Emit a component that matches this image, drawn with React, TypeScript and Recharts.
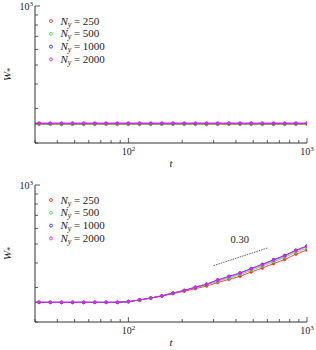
import React from "react";
import {
  Legend,
  Line,
  LineChart,
  ReferenceDot,
  ReferenceLine,
  XAxis,
  YAxis,
} from "recharts";

const FONT = '"Liberation Serif", "DejaVu Serif", serif';

// t sampled at 10^(1.5 + k/16); first point sits just left of the frame
const tValues = [
  27.4, 31.6, 36.5, 42.2, 48.7, 56.2, 64.9, 75.0, 86.6, 100, 115.5, 133.4, 154,
  177.8, 205.4, 237.1, 273.8, 316.2, 365.2, 421.7, 487, 562.3, 649.4, 749.9, 866, 1000,
];

const sizes = ["250", "500", "1000", "2000"];
const colors = ["#ff2a2a", "#3ee83e", "#2a2aff", "#f020f0"];

// upper panel
const topN250 = [249, 249, 249, 249, 249, 249, 249, 249, 249, 249, 249, 249, 249, 249, 249, 249, 249, 249, 249, 249, 249, 249, 249, 249, 249, 249];
const topN500 = [249.5, 249.5, 249.5, 249.5, 249.5, 249.5, 249.5, 249.5, 249.5, 249.5, 249.5, 249.5, 249.5, 249.5, 249.5, 249.5, 249.5, 249.5, 249.5, 249.5, 249.5, 249.5, 249.5, 249.5, 249.5, 249.5];
const topN1000 = [252, 252, 252, 252, 252, 252, 252, 252, 252, 252, 252, 252, 252, 252, 252, 252, 252, 252, 252, 252, 252, 252, 252, 252, 252, 252];
const topN2000 = [252.5, 252.5, 252.5, 252.5, 252.5, 252.5, 252.5, 252.5, 252.5, 252.5, 252.5, 252.5, 252.5, 252.5, 252.5, 252.5, 252.5, 252.5, 252.5, 252.5, 252.5, 252.5, 252.5, 252.5, 252.5, 252.5];

// lower panel
const botN250 = [252, 252, 252, 252, 252, 252, 252, 252, 252, 254, 259, 265, 271, 279, 287, 296, 305, 318, 330, 342, 360, 377, 397, 417, 444, 466];
const botN500 = [252, 252, 252, 252, 252, 252, 252, 252, 252, 254, 259, 265, 272, 280, 289, 299, 309, 323, 335, 349, 367, 385, 406, 427, 454, 476];
const botN1000 = [252, 252, 252, 252, 252, 252, 252, 252, 252, 254, 259, 265, 272, 281, 290, 301, 312, 328, 342, 356, 375, 394, 416, 437, 465, 489];
const botN2000 = [252, 252, 252, 252, 252, 252, 252, 252, 252, 254, 259, 265, 272, 281, 290, 301, 312, 327, 340, 354, 373, 391, 413, 434, 462, 485];

const xTicks = [30, 40, 50, 60, 70, 80, 90, 100, 200, 300, 400, 500, 600, 700, 800, 900, 1000];
const yTicks = [200, 300, 400, 500, 600, 700, 800, 900, 1000];
const xExponent: Record<number, string> = { 100: "2", 1000: "3" };
const yExponent: Record<number, string> = { 1000: "3" };

// guide line with slope 0.30
const slopeT = [300, 600];
const slopeW = [388, 477];
const slopeLabel = { t: 420, w: 527, text: "0.30" };

const XTick = (props: any) => {
  const { x, y, payload, side } = props;
  const v = payload.value as number;
  const major = xExponent[v] !== undefined;
  const len = major ? 5 : 3;
  const dir = side === "bottom" ? -1 : 1;
  return (
    <g>
      <line x1={x} y1={y} x2={x} y2={y + dir * len} stroke="#333" strokeWidth={0.8} />
      {side === "bottom" && major && (
        <text x={x} y={y + 12} textAnchor="middle" fontSize={10} fontFamily={FONT} fill="#222">
          10<tspan dy={-4} fontSize={7}>{xExponent[v]}</tspan>
        </text>
      )}
    </g>
  );
};

const YTick = (props: any) => {
  const { x, y, payload, side } = props;
  const v = payload.value as number;
  const major = yExponent[v] !== undefined;
  const len = major ? 5 : 3;
  const dir = side === "left" ? 1 : -1;
  return (
    <g>
      <line x1={x} y1={y} x2={x + dir * len} y2={y} stroke="#333" strokeWidth={0.8} />
      {side === "left" && major && (
        <text x={x - 2} y={y + 4} textAnchor="end" fontSize={10} fontFamily={FONT} fill="#222">
          10<tspan dy={-4} fontSize={7}>{yExponent[v]}</tspan>
        </text>
      )}
    </g>
  );
};

const LegendBox = () => (
  <svg width={90} height={56}>
    {sizes.map((n, i) => (
      <g key={n}>
        <circle cx={6} cy={5 + i * 12.8} r={1.5} fill="none" stroke={colors[i]} strokeWidth={0.9} />
        <text x={15.5} y={8.5 + i * 12.8} fontSize={11} fontFamily={FONT} fill="#222">
          <tspan fontStyle="italic">N</tspan>
          <tspan fontStyle="italic" fontSize={8} dy={2}>y</tspan>
          <tspan dy={-2} dx={2.5}>=</tspan>
          <tspan dx={2.5}>{n}</tspan>
        </text>
      </g>
    ))}
  </svg>
);

function Panel({ series, top, xAxisH, slope }: { series: number[][]; top: number; xAxisH: number; slope?: boolean }) {
  const data = tValues.map((t, i) => ({
    t,
    s0: series[0][i],
    s1: series[1][i],
    s2: series[2][i],
    s3: series[3][i],
  }));
  return (
    <LineChart width={316} height={175} data={data} margin={{ top, right: 9, bottom: 0, left: 0 }}>
      <XAxis
        xAxisId="b"
        dataKey="t"
        type="number"
        scale="log"
        domain={[30, 1000]}
        allowDataOverflow
        ticks={xTicks}
        interval={0}
        tickSize={0}
        tickMargin={0}
        tickLine={false}
        height={xAxisH}
        axisLine={{ stroke: "#333" }}
        tick={(p: any) => <XTick {...p} side="bottom" />}
        label={{
          content: ({ viewBox }: any) => (
            <text
              x={viewBox.x + viewBox.width / 2}
              y={viewBox.y + 24}
              textAnchor="middle"
              fontSize={11}
              fontStyle="italic"
              fontFamily={FONT}
              fill="#222"
            >
              t
            </text>
          ),
        }}
      />
      <XAxis
        xAxisId="t"
        dataKey="t"
        orientation="top"
        type="number"
        scale="log"
        domain={[30, 1000]}
        allowDataOverflow
        ticks={xTicks}
        interval={0}
        tickSize={0}
        tickMargin={0}
        tickLine={false}
        height={0}
        axisLine={{ stroke: "#333" }}
        tick={(p: any) => <XTick {...p} side="top" />}
      />
      <YAxis
        yAxisId="l"
        type="number"
        scale="log"
        domain={[200, 1000]}
        allowDataOverflow
        ticks={yTicks}
        interval={0}
        tickSize={0}
        tickMargin={0}
        tickLine={false}
        width={35}
        axisLine={{ stroke: "#333" }}
        tick={(p: any) => <YTick {...p} side="left" />}
        label={{
          content: ({ viewBox }: any) => {
            const cy = viewBox.y + viewBox.height / 2;
            return (
              <text
                x={11}
                y={cy}
                transform={`rotate(-90 11 ${cy})`}
                textAnchor="middle"
                fontSize={11}
                fontFamily={FONT}
                fill="#222"
              >
                <tspan fontStyle="italic">W</tspan>
                <tspan fontSize={7.5} dy={2}>*</tspan>
              </text>
            );
          },
        }}
      />
      <YAxis
        yAxisId="r"
        orientation="right"
        type="number"
        scale="log"
        domain={[200, 1000]}
        allowDataOverflow
        ticks={yTicks}
        interval={0}
        tickSize={0}
        tickMargin={0}
        tickLine={false}
        width={0}
        axisLine={{ stroke: "#333" }}
        tick={(p: any) => <YTick {...p} side="right" />}
      />
      <Legend
        layout="vertical"
        align="center"
        verticalAlign="middle"
        wrapperStyle={{ left: 45, top: top + 9.5, width: 90, height: 56 }}
        content={() => <LegendBox />}
      />
      {colors.map((c, i) => (
        <Line
          key={c}
          xAxisId="b"
          yAxisId="l"
          dataKey={`s${i}`}
          stroke={c}
          strokeWidth={0.9}
          dot={{ r: 1.4, fill: c, stroke: c, strokeWidth: 0.6 }}
          activeDot={false}
          isAnimationActive={false}
          legendType="none"
        />
      ))}
      {slope && (
        <ReferenceLine
          xAxisId="b"
          yAxisId="l"
          segment={[
            { x: slopeT[0], y: slopeW[0] },
            { x: slopeT[1], y: slopeW[1] },
          ]}
          stroke="#333"
          strokeWidth={0.8}
          strokeDasharray="1.5 1"
        />
      )}
      {slope && (
        <ReferenceDot
          xAxisId="b"
          yAxisId="l"
          x={slopeLabel.t}
          y={slopeLabel.w}
          r={0}
          stroke="none"
          fill="none"
          label={{
            content: ({ viewBox }: any) => (
              <text
                x={viewBox.x + viewBox.width / 2}
                y={viewBox.y + viewBox.height / 2 + 3.5}
                textAnchor="middle"
                fontSize={10.5}
                fontFamily={FONT}
                fill="#222"
              >
                {slopeLabel.text}
              </text>
            ),
          }}
        />
      )}
    </LineChart>
  );
}

export default function App() {
  return (
    <div style={{ position: "absolute", left: 0, top: 0, width: 316, height: 350, background: "#fff" }}>
      <Panel series={[topN250, topN500, topN1000, topN2000]} top={6} xAxisH={32} />
      <Panel series={[botN250, botN500, botN1000, botN2000]} top={10} xAxisH={28} slope />
    </div>
  );
}
